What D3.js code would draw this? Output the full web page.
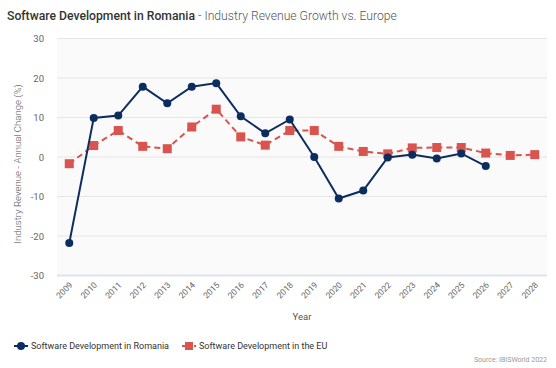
<!DOCTYPE html>
<html><head><meta charset="utf-8">
<script src="https://cdn.jsdelivr.net/npm/d3@7"></script>
<style>
body{margin:0;background:#fff;font-family:Roboto,"Open Sans",sans-serif;}
</style></head><body>
<svg id="chart" width="556" height="368"></svg>
<script>
const years = ["2009","2010","2011","2012","2013","2014","2015","2016","2017","2018","2019","2020","2021","2022","2023","2024","2025","2026","2027","2028"];
const romania = [-21.8,9.9,10.5,17.8,13.6,17.8,18.7,10.3,6.0,9.5,0.0,-10.5,-8.5,-0.1,0.6,-0.4,0.9,-2.3,null,null];
const eu = [-1.7,2.9,6.7,2.7,2.1,7.6,12.1,5.1,3.0,6.7,6.7,2.7,1.4,0.8,2.3,2.4,2.4,1.0,0.4,0.6];
const yTicks = [-30,-20,-10,0,10,20,30];
const seriesNames = ["Software Development in Romania","Software Development in the EU"];

const svg = d3.select("#chart");
const m = {l:57, r:9, t:38.5, b:92.5};
const W = 556, H = 368;
const x = d3.scaleBand().domain(years).range([m.l, W-m.r]);
const y = d3.scaleLinear().domain([-30,30]).range([H-m.b, m.t]);

// title
const t = svg.append("text").attr("x",7).attr("y",20).attr("font-size",12.2).attr("fill","#333");
t.append("tspan").attr("font-weight",500).text("Software Development in Romania");
t.append("tspan").attr("fill","#555").attr("font-weight",300).text(" - Industry Revenue Growth vs. Europe");

// plot bg
svg.append("rect").attr("x",m.l).attr("y",m.t).attr("width",W-m.r-m.l).attr("height",H-m.b-m.t).attr("fill","#fafafa");

// grid
svg.append("g").selectAll("line").data(yTicks).join("line")
  .attr("x1",m.l).attr("x2",W-m.r).attr("y1",d=>y(d)).attr("y2",d=>y(d))
  .attr("stroke",d=>d===-30?"#dde3ee":"#e6e6e6").attr("stroke-width",d=>d===-30?2:1);

// y axis labels
svg.append("g").selectAll("text").data(yTicks).join("text")
  .attr("x",44).attr("y",d=>y(d)+3.5).attr("text-anchor","end").attr("font-size",9.5).attr("fill","#666")
  .text(d=>d);

// y axis title
svg.append("text").attr("transform",`translate(21,${(m.t+H-m.b)/2+7}) rotate(-90)`)
  .attr("text-anchor","middle").attr("font-size",9.6).attr("fill","#555").attr("font-weight",300)
  .text("Industry Revenue - Annual Change (%)");

// x labels
svg.append("g").selectAll("text").data(years).join("text")
  .attr("transform",d=>`translate(${x(d)+x.bandwidth()/2+4},${H-m.b+10}) rotate(-45)`)
  .attr("text-anchor","end").attr("font-size",8.5).attr("fill","#666").text(d=>d);

svg.append("text").attr("x",(m.l+W-m.r)/2).attr("y",320).attr("text-anchor","middle")
  .attr("font-size",9.5).attr("fill","#555").text("Year");

const cx = d=>x(d)+x.bandwidth()/2;
const blue = "#0b2d5f", red = "#d9534f";

// EU line
const euData = years.map((yr,i)=>({yr,v:eu[i]}));
svg.append("path").datum(euData)
  .attr("d",d3.line().x(d=>cx(d.yr)).y(d=>y(d.v)))
  .attr("fill","none").attr("stroke",red).attr("stroke-width",2).attr("stroke-dasharray","6,4");
svg.append("g").selectAll("rect").data(euData).join("rect")
  .attr("x",d=>cx(d.yr)-4.5).attr("y",d=>y(d.v)-4.5).attr("width",9).attr("height",9).attr("fill",red);

// Romania line
const roData = years.map((yr,i)=>({yr,v:romania[i]})).filter(d=>d.v!==null);
svg.append("path").datum(roData)
  .attr("d",d3.line().x(d=>cx(d.yr)).y(d=>y(d.v)))
  .attr("fill","none").attr("stroke",blue).attr("stroke-width",2);
svg.append("g").selectAll("circle").data(roData).join("circle")
  .attr("cx",d=>cx(d.yr)).attr("cy",d=>y(d.v)).attr("r",4).attr("fill",blue);

// legend
const lg = svg.append("g");
const l1 = lg.append("g").attr("transform","translate(14,346)");
l1.append("line").attr("x1",0).attr("x2",14).attr("stroke",blue).attr("stroke-width",2);
l1.append("circle").attr("cx",7).attr("r",4).attr("fill",blue);
l1.append("text").attr("x",17).attr("y",3.2).attr("font-size",9).attr("fill","#333").text(seriesNames[0]);
const l2 = lg.append("g").attr("transform","translate(182,346)");
l2.append("line").attr("x1",0).attr("x2",14).attr("stroke",red).attr("stroke-width",2).attr("stroke-dasharray","4,2");
l2.append("rect").attr("x",3).attr("y",-4).attr("width",8).attr("height",8).attr("fill",red);
l2.append("text").attr("x",17).attr("y",3.2).attr("font-size",9).attr("fill","#333").text(seriesNames[1]);

svg.append("text").attr("x",547).attr("y",362).attr("text-anchor","end").attr("font-size",7)
  .attr("fill","#999").text("Source: IBISWorld 2022");
</script>
</body></html>
